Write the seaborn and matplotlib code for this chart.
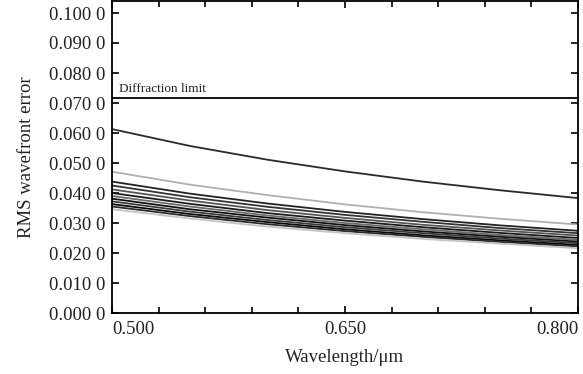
import matplotlib
matplotlib.use("Agg")
import matplotlib.pyplot as plt
import seaborn as sns
import pandas as pd
from matplotlib.ticker import MultipleLocator, FixedLocator, FuncFormatter

wavelengths = [0.50, 0.55, 0.60, 0.65, 0.70, 0.75, 0.80]
curve_a = [0.0613, 0.0557, 0.0511, 0.0472, 0.0438, 0.0409, 0.0383]
curve_b = [0.0471, 0.0428, 0.0393, 0.0362, 0.0336, 0.0314, 0.0295]
curve_c = [0.0438, 0.0398, 0.0365, 0.0337, 0.0313, 0.0292, 0.0274]
curve_d = [0.0425, 0.0386, 0.0354, 0.0327, 0.0304, 0.0283, 0.0266]
curve_e = [0.0412, 0.0375, 0.0343, 0.0317, 0.0294, 0.0275, 0.0258]
curve_f = [0.0400, 0.0364, 0.0333, 0.0308, 0.0286, 0.0267, 0.0250]
curve_g = [0.0390, 0.0355, 0.0325, 0.0300, 0.0279, 0.0260, 0.0244]
curve_h = [0.0381, 0.0346, 0.0318, 0.0293, 0.0272, 0.0254, 0.0238]
curve_i = [0.0372, 0.0338, 0.0310, 0.0286, 0.0266, 0.0248, 0.0233]
curve_j = [0.0363, 0.0330, 0.0303, 0.0279, 0.0259, 0.0242, 0.0227]
curve_k = [0.0355, 0.0323, 0.0296, 0.0273, 0.0254, 0.0237, 0.0222]
curve_l = [0.0346, 0.0315, 0.0288, 0.0266, 0.0247, 0.0231, 0.0216]
diffraction_limit = 0.0717
x_major = [0.50, 0.65, 0.80]
x_minor = [0.53, 0.56, 0.59, 0.62, 0.68, 0.71, 0.74, 0.77]

curves = {"a": curve_a, "b": curve_b, "c": curve_c, "d": curve_d, "e": curve_e,
          "f": curve_f, "g": curve_g, "h": curve_h, "i": curve_i, "j": curve_j,
          "k": curve_k, "l": curve_l}
colors = ["#2a2a2a", "#b0b0b0", "#222222", "#333333", "#555555", "#1a1a1a",
          "#6a6a6a", "#111111", "#3a3a3a", "#0a0a0a", "#2a2a2a", "#c4c4c4"]

rows = []
for name, vals in curves.items():
    for w, v in zip(wavelengths, vals):
        rows.append({"curve": name, "wavelength": w, "rms": v})
df = pd.DataFrame(rows)

sns.set_style("ticks")
plt.rcParams["font.family"] = ["Liberation Serif", "DejaVu Serif"]

fig = plt.figure(figsize=(5.83, 3.74), dpi=100)
ax = fig.add_axes([112 / 583, 1 - 313 / 374, (578 - 112) / 583, (313 - 1) / 374])

sns.lineplot(data=df, x="wavelength", y="rms", hue="curve", palette=colors,
             linewidth=1.3, legend=False, ax=ax)
ax.axhline(diffraction_limit, color="black", linewidth=1.3)
ax.text(0.5045, diffraction_limit + 0.0011, "Diffraction limit", fontsize=9.5,
        ha="left", va="bottom")

ax.set_xlim(0.50, 0.80)
ax.set_ylim(0.0, 0.104)
ax.xaxis.set_major_locator(FixedLocator(x_major))
ax.xaxis.set_minor_locator(FixedLocator(x_minor))
ax.yaxis.set_major_locator(MultipleLocator(0.01))
ax.yaxis.set_major_formatter(FuncFormatter(lambda v, p: f"{v:.3f} 0"))
ax.xaxis.set_major_formatter(FuncFormatter(lambda v, p: f"{v:.3f}"))

ax.tick_params(axis="both", which="both", direction="in", top=True, right=True,
               labelsize=13.5, width=1.2, color="black", labelcolor="#222222")
ax.tick_params(axis="both", which="major", length=5)
ax.tick_params(axis="both", which="minor", length=4)
ax.tick_params(axis="x", which="major", pad=6)
ax.tick_params(axis="y", which="major", pad=5)
for s in ax.spines.values():
    s.set_linewidth(1.3)
    s.set_color("black")

xl = ax.get_xticklabels()
xl[0].set_ha("left")
xl[-1].set_ha("right")

ax.set_xlabel("Wavelength/μm", fontsize=13.5, labelpad=8, color="#222222")
ax.set_ylabel("RMS wavefront error", fontsize=13.5, labelpad=10, color="#222222")

fig.savefig("out.png", dpi=100)
